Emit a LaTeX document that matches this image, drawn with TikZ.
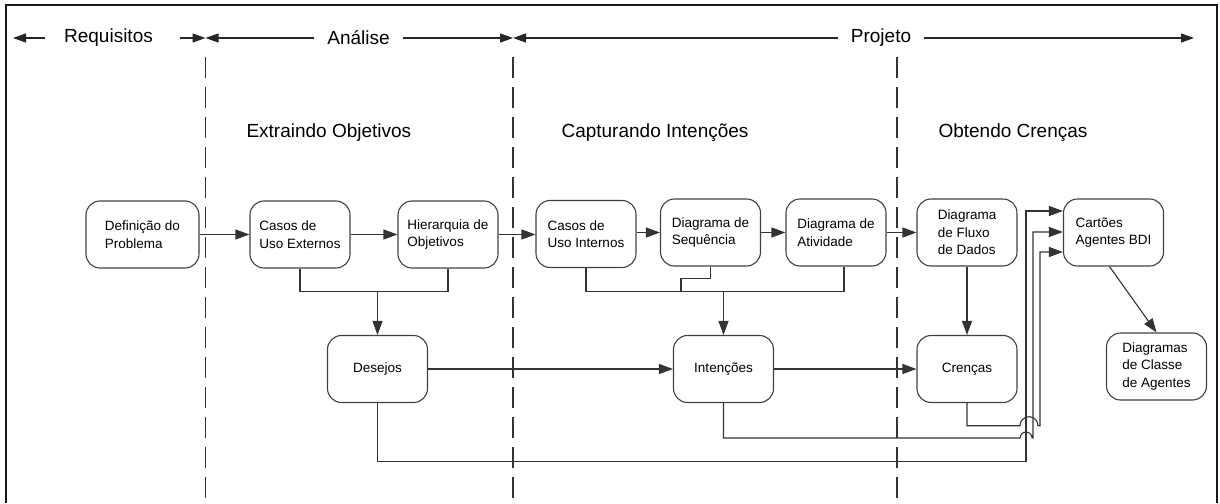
\documentclass[tikz,border=0pt]{standalone}
\usepackage{fontspec}
\setmainfont{Liberation Sans}
\usetikzlibrary{arrows.meta}

\tikzset{
  box/.style={shape=rectangle, draw=black!75, line width=1.1pt, rounded corners=14pt,
    minimum width=100pt, minimum height=67pt, align=left,
    font=\fontsize{13.5}{17.5}\selectfont},
  conn/.style={draw=black!80, line width=1.1pt},
  arr/.style={conn, -{Triangle[length=14pt,width=10pt]}},
  harr/.style={draw=black!85, line width=1.2pt, -{Triangle[length=13pt,width=9pt]}},
  divider/.style={draw=black!80, line width=1.2pt, dash pattern=on 21pt off 9pt},
  hlabel/.style={font=\fontsize{19}{22}\selectfont, inner xsep=13pt},
  sectitle/.style={font=\fontsize{19}{22}\selectfont, anchor=west}
}

\begin{document}
\begin{tikzpicture}[x=1pt, y=1pt]
\useasboundingbox (0,0) rectangle (1220,-503);
\draw[line width=2pt, draw=black!90] (6,-503) -- (6,-5) -- (1217,-5) -- (1217,-503);

% phases
\node[hlabel] (req) at (108.5,-38) {Requisitos};
\node[hlabel] (ana) at (358.5,-38) {Análise};
\node[hlabel] (proj) at (881,-38) {Projeto};
\coordinate (hl) at (13,-38);
\coordinate (d1) at (205.5,-38);
\coordinate (d2) at (513,-38);
\coordinate (hr) at (1194,-38);
\draw[harr] ([xshift=-6pt]req.west) -- (hl);
\draw[harr] ([xshift=14pt]req.east) -- (d1);
\draw[harr] (ana.west) -- (d1);
\draw[harr] (ana.east) -- (d2);
\draw[harr] (proj.west) -- (d2);
\draw[harr] (proj.east) -- (hr);
\draw[divider] (205.5,-57) -- (205.5,-503);
\draw[divider] (513,-57) -- (513,-503);
\draw[divider] (897,-57) -- (897,-503);

\node[sectitle] (tobj) at (243,-133) {Extraindo Objetivos};
\node[sectitle] (tint) at (558,-133) {Capturando Intenções};
\node[sectitle] (tcre) at (935,-133) {Obtendo Crenças};

% boxes
\node[box, minimum width=113pt] (def) at (142.5,-234.5) {Definição do\\Problema};
\node[box] (cue) at (300,-234.5) {Casos de\\Uso Externos};
\node[box] (hier) at (448,-234.5) {Hierarquia de\\Objetivos};
\node[box] (cui) at (586,-234) {Casos de\\Uso Internos};
\node[box] (seq) at (710.5,-232.5) {Diagrama de\\Sequência};
\node[box] (ativ) at (836,-232.5) {Diagrama de\\Atividade};
\node[box] (dfd) at (967,-232.5) {Diagrama\\de Fluxo\\de Dados};
\node[box] (bdi) at (1113.5,-232.5) {Cartões\\Agentes BDI};
\node[box] (des) at (377.5,-369) {Desejos};
\node[box] (int) at (723.5,-369) {Intenções};
\node[box] (cre) at (967,-369) {Crenças};
\node[box] (cla) at (1156.5,-366.5) {Diagramas\\de Classe\\de Agentes};

% flow
\draw[arr] (def) -- (cue);
\draw[arr] (cue) -- (hier);
\draw[arr] (hier.east) -- (hier.east -| cui.west);
\draw[arr] (cui.east |- seq) -- (seq);
\draw[arr] (seq) -- (ativ);
\draw[arr] (ativ) -- (dfd);
\draw[arr] (dfd) -- (cre);
\draw[arr] (des) -- (int);
\draw[arr] (int) -- (cre);
\draw[arr] ([xshift=-4pt]bdi.south) -- (cla.north);

\draw[conn] (cue.south) -- ++(0,-22.5) -| (hier.south);
\draw[arr] (des.north |- 0,-290.5) -- (des.north);
\draw[conn] (cui.south) -- ++(0,-23) -| ([xshift=8pt]ativ.south);
\draw[conn] (seq.south) -- ++(0,-12) -| (681,-290.5);
\draw[arr] (int.north |- 0,-290.5) -- (int.north);

% back to the BDI cards
\draw[arr] (des.south) |- (1026,-461.7) -- (1026,-211) -- (bdi.west |- 0,-211);
\draw[arr] (int.south) |- (1020,-438) arc[start angle=180, end angle=0, radius=6]
  -- (1033,-438) -- (1033,-232) -- (bdi.west |- 0,-232);
\draw[arr] (cre.south) |- (1020,-425.7) arc[start angle=180, end angle=0, radius=9]
  -- (1040,-425.7) -- (1040,-252) -- (bdi.west |- 0,-252);
\end{tikzpicture}
\end{document}
